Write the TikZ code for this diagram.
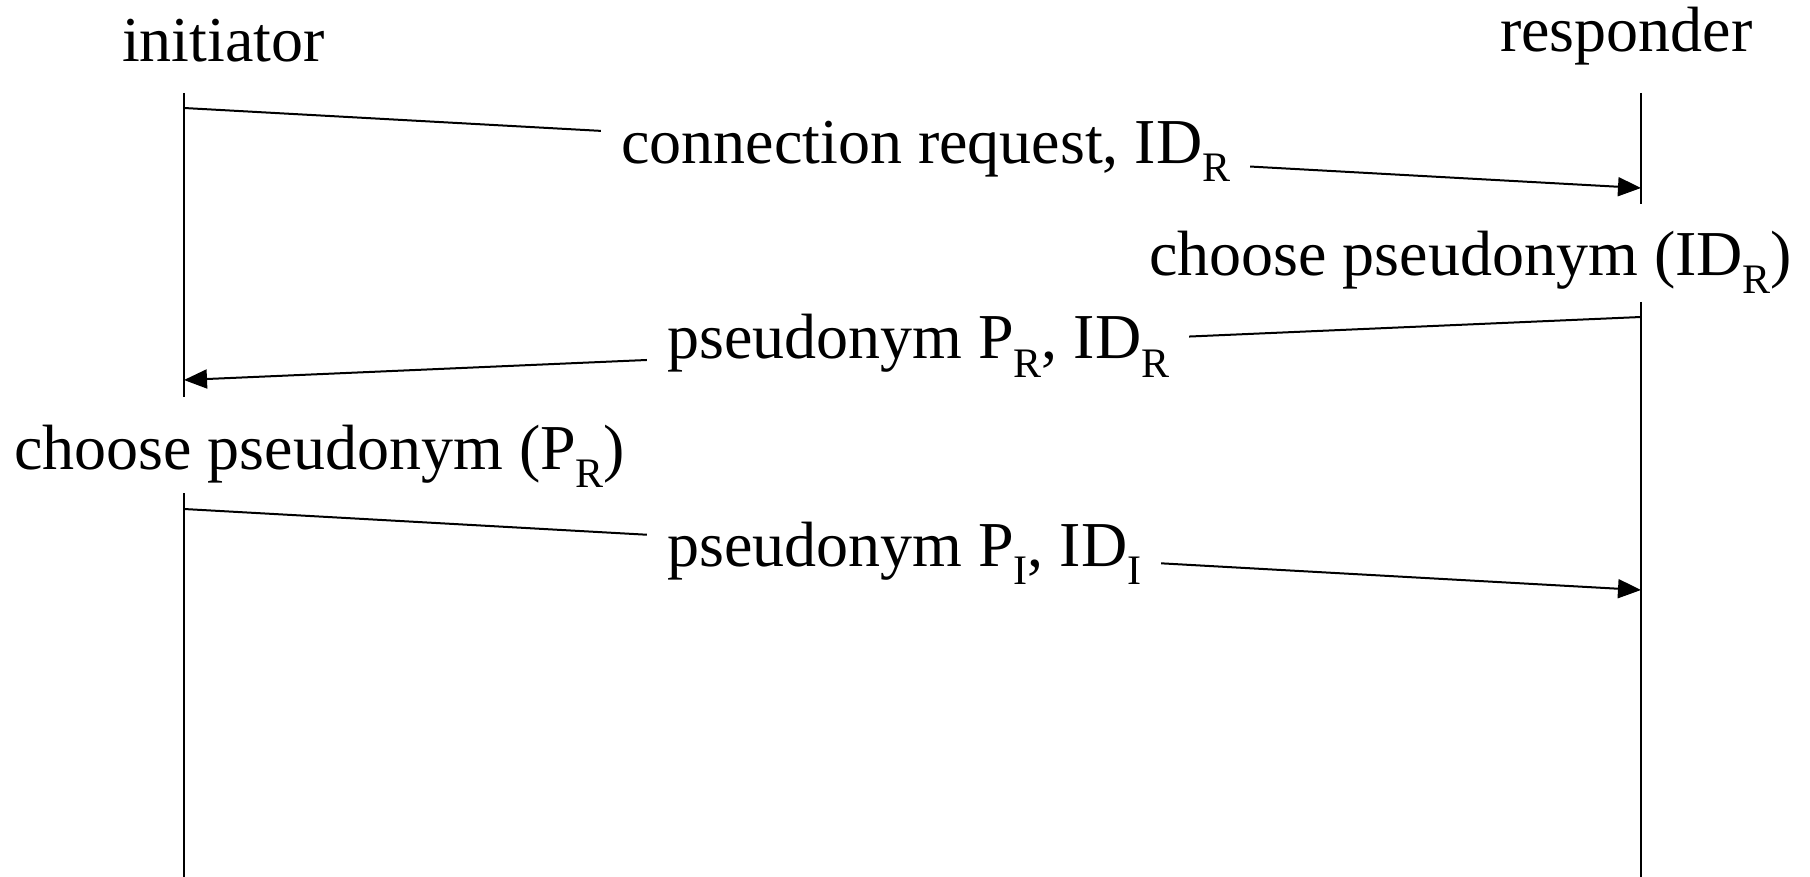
\documentclass[tikz,border=0pt]{standalone}
\usepackage{fontspec}
\setmainfont{Liberation Serif}
\usetikzlibrary{arrows.meta}
\newcommand{\sbs}[1]{\raisebox{-18pt}{\fontsize{42pt}{42pt}\selectfont #1}}
\begin{document}
\begin{tikzpicture}[x=1pt,y=-1pt,
  txt/.style={font=\fontsize{64pt}{70pt}\selectfont, inner sep=0pt, anchor=base west},
  lbl/.style={txt, fill=white, inner xsep=20pt, inner ysep=4pt},
  life/.style={line width=2pt},
  msg/.style={line width=2pt, -{Triangle[length=23pt,width=19pt]}}]
\fill[white] (0,0) rectangle (1810,877);
\useasboundingbox (0,0) rectangle (1810,877);
% headers
\node[txt] (init) at (122,62) {initiator};
\node[txt] (resp) at (1500,52) {responder};
% lifeline points
\coordinate (Lt) at (184,93);
\coordinate (Lb1) at (184,397);
\coordinate (Lr) at (184,493);
\coordinate (Lend) at (184,877);
\coordinate (Rt) at (1641,93);
\coordinate (Rb1) at (1641,204);
\coordinate (Rr) at (1641,302);
\coordinate (Rend) at (1641,877);
\draw[life] (Lt) -- (Lb1);
\draw[life] (Lr) -- (Lend);
\draw[life] (Rt) -- (Rb1);
\draw[life] (Rr) -- (Rend);
% message end points
\coordinate (m1s) at (184,108);
\coordinate (m1e) at (1641,188);
\coordinate (m2s) at (1641,317);
\coordinate (m2e) at (184,380);
\coordinate (m3s) at (184,509);
\coordinate (m3e) at (1641,590);
\draw[msg] (m1s) -- (m1e);
\draw[msg] (m2s) -- (m2e);
\draw[msg] (m3s) -- (m3e);
% labels
\node[lbl] (l1) at (601,164) {connection request, ID\sbs{R}};
\node[lbl] (l2) at (647,359) {pseudonym P\sbs{R}, ID\sbs{R}};
\node[lbl] (l3) at (647,566) {pseudonym P\sbs{I}, ID\sbs{I}\hspace{15pt}};
% actions
\node[txt] (a1) at (1149,276) {choose pseudonym (ID\sbs{R})};
\node[txt] (a2) at (14,469) {choose pseudonym (P\sbs{R})};
\end{tikzpicture}
\end{document}
